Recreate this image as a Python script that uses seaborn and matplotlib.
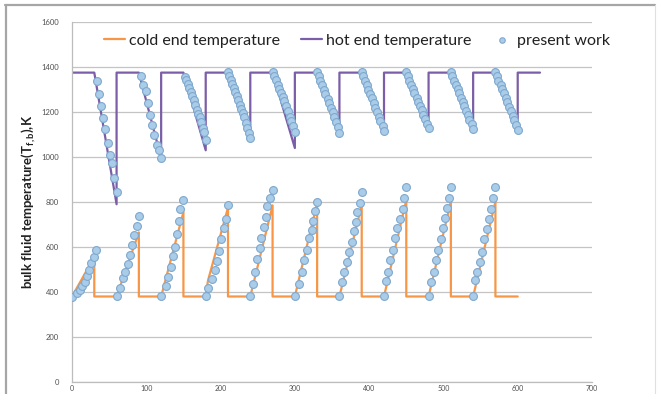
import matplotlib
matplotlib.use("Agg")
import matplotlib.pyplot as plt
import seaborn as sns
import pandas as pd
from matplotlib.lines import Line2D

# ---------------- data ----------------
hot_x = [0, 30, 60, 60, 90, 120, 120, 150, 180, 180, 210, 240, 240, 270, 300, 300,
         330, 360, 360, 390, 420, 420, 450, 480, 480, 510, 540, 540, 570, 600, 600, 630]
hot_y = [1375, 1375, 790, 1375, 1375, 995, 1375, 1375, 1030, 1375, 1375, 1078, 1375, 1375, 1040, 1375,
         1375, 1110, 1375, 1375, 1112, 1375, 1375, 1140, 1375, 1375, 1138, 1375, 1375, 1135, 1375, 1375]

cold_x = [0, 30, 30, 60, 90, 90, 120, 150, 150, 180, 183, 210, 210, 240, 270, 270,
          300, 330, 330, 360, 390, 390, 420, 450, 450, 480, 510, 510, 540, 570, 570, 600]
cold_y = [380, 555, 380, 380, 665, 380, 380, 755, 380, 380, 450, 775, 380, 380, 785, 380,
          380, 795, 380, 380, 787, 380, 380, 809, 380, 380, 802, 380, 380, 802, 380, 380]

# present work: hot-end points, one list per cycle
hot_pts_x = [
    [33, 36, 39, 42, 45, 48, 51, 54, 57, 60],
    [93, 96, 99, 102, 105, 108, 111, 114, 117, 120],
    [152, 154, 156, 158, 160, 162, 164, 166, 168, 170, 172, 174, 176, 178, 180],
    [210, 212, 214, 216, 218, 220, 222, 224, 226, 228, 230, 232, 234, 236, 238, 240],
    [270, 272, 274, 277, 279, 281, 284, 286, 288, 291, 293, 295, 298, 300],
    [330, 332, 334, 337, 339, 341, 344, 346, 348, 351, 353, 355, 358, 360],
    [390, 392, 394, 397, 399, 401, 404, 406, 408, 411, 413, 415, 418, 420],
    [450, 452, 454, 457, 459, 461, 464, 466, 468, 471, 473, 475, 478, 480],
    [510, 512, 514, 517, 519, 521, 524, 526, 528, 531, 533, 535, 538, 540],
    [570, 572, 574, 577, 579, 581, 584, 586, 588, 591, 593, 595, 598, 600],
]
hot_pts_y = [
    [1336, 1280, 1225, 1175, 1124, 1062, 1010, 972, 906, 846],
    [1362, 1322, 1292, 1240, 1188, 1143, 1099, 1054, 1032, 995],
    [1356, 1341, 1326, 1307, 1289, 1269, 1252, 1232, 1210, 1192, 1176, 1154, 1130, 1112, 1077],
    [1378, 1362, 1344, 1326, 1307, 1287, 1269, 1252, 1232, 1213, 1195, 1178, 1151, 1129, 1106, 1084],
    [1377, 1359, 1341, 1322, 1302, 1285, 1267, 1248, 1225, 1203, 1180, 1158, 1136, 1109],
    [1378, 1358, 1338, 1319, 1300, 1281, 1260, 1240, 1219, 1198, 1178, 1155, 1132, 1108],
    [1378, 1359, 1339, 1320, 1300, 1280, 1261, 1240, 1220, 1199, 1178, 1158, 1136, 1114],
    [1377, 1358, 1339, 1320, 1301, 1283, 1264, 1245, 1226, 1207, 1188, 1168, 1148, 1129],
    [1378, 1359, 1340, 1321, 1302, 1283, 1264, 1245, 1226, 1206, 1186, 1166, 1145, 1124],
    [1378, 1359, 1340, 1321, 1302, 1283, 1263, 1244, 1224, 1204, 1184, 1163, 1142, 1121],
]
# present work: cold-end points, one list per cycle
cold_pts_x = [
    [0, 7, 11, 14, 17, 20, 23, 26, 29, 32],
    [60, 65, 69, 72, 75, 78, 81, 84, 87, 90],
    [120, 126, 129, 133, 136, 138, 141, 144, 146, 150],
    [180, 183, 189, 192, 195, 198, 201, 204, 207, 210],
    [240, 244, 246, 249, 253, 255, 258, 261, 263, 267, 270],
    [300, 306, 309, 312, 316, 319, 323, 325, 327, 330],
    [360, 363, 366, 370, 373, 377, 380, 382, 384, 388, 390],
    [420, 423, 425, 428, 432, 435, 438, 442, 445, 447, 450],
    [480, 483, 487, 490, 493, 497, 499, 502, 505, 508, 510],
    [540, 543, 545, 549, 552, 555, 559, 561, 564, 567, 570],
]
cold_pts_y = [
    [380, 395, 408, 425, 445, 470, 497, 527, 556, 585],
    [382, 420, 462, 490, 524, 564, 609, 655, 694, 738],
    [382, 426, 465, 510, 560, 601, 658, 717, 768, 809],
    [382, 420, 460, 497, 539, 583, 634, 683, 723, 787],
    [382, 435, 490, 545, 594, 639, 688, 735, 783, 817, 854],
    [382, 435, 490, 544, 588, 639, 676, 717, 758, 802],
    [382, 445, 490, 535, 580, 624, 669, 709, 754, 795, 843],
    [382, 450, 490, 544, 588, 639, 684, 724, 769, 818, 867],
    [382, 445, 490, 544, 588, 634, 684, 729, 774, 818, 867],
    [382, 453, 490, 535, 580, 634, 681, 726, 771, 820, 867],
]

y_ticks = [0, 200, 400, 600, 800, 1000, 1200, 1400, 1600]
x_ticks = [0, 100, 200, 300, 400, 500, 600, 700]

# ---------------- build tables ----------------
hot_df = pd.DataFrame({"x": hot_x, "y": hot_y})
cold_df = pd.DataFrame({"x": cold_x, "y": cold_y})
px, py = [], []
for xs, ys in zip(hot_pts_x + cold_pts_x, hot_pts_y + cold_pts_y):
    px.extend(xs)
    py.extend(ys)
pts_df = pd.DataFrame({"x": px, "y": py})

# ---------------- figure ----------------
sns.set_theme(style="white")
plt.rcParams['font.family'] = ['Lato', 'DejaVu Sans']
plt.rcParams['mathtext.fontset'] = 'custom'
plt.rcParams['mathtext.bf'] = 'Lato:bold'
plt.rcParams['mathtext.rm'] = 'Lato'
plt.rcParams['mathtext.it'] = 'Lato:italic'

W, H = 660, 394
fig = plt.figure(figsize=(W / 100, H / 100), dpi=100)
fig.patch.set_facecolor("white")

# outer chart frame
frame_c = "#a6a6a6"
fig.add_artist(Line2D([5 / W, 655 / W], [1 - 5 / H, 1 - 5 / H], color=frame_c, lw=1.6))
fig.add_artist(Line2D([6 / W, 6 / W], [0, 1 - 5 / H], color=frame_c, lw=1.6))
fig.add_artist(Line2D([655 / W, 655 / W], [0, 1 - 5 / H], color="#e0e0e0", lw=0.8))

ax = fig.add_axes([72 / W, 12 / H, 520 / W, 360 / H])

orange = "#F79646"
purple = "#7B5EA7"

sns.lineplot(data=cold_df, x="x", y="y", sort=False, estimator=None, ax=ax,
             color=orange, lw=1.6, label="cold end temperature")
sns.lineplot(data=hot_df, x="x", y="y", sort=False, estimator=None, ax=ax,
             color=purple, lw=1.6, label="hot end temperature")
sns.scatterplot(data=pts_df, x="x", y="y", ax=ax, s=32, color="#A9CCE8",
                edgecolor="#7FA8CF", linewidth=0.8, label="present work", zorder=3)

ax.set_xlim(0, 700)
ax.set_ylim(0, 1600)
ax.set_xticks(x_ticks)
ax.set_yticks(y_ticks)
ax.set_xticklabels([str(v) for v in x_ticks])
ax.set_yticklabels([str(v) for v in y_ticks])
ax.yaxis.grid(True, color="#c4c4c4", lw=0.9)
ax.xaxis.grid(False)
ax.set_axisbelow(True)
for s in ["top", "right"]:
    ax.spines[s].set_visible(False)
for s in ["left", "bottom"]:
    ax.spines[s].set_color("#bcbcbc")
    ax.spines[s].set_linewidth(0.9)
ax.tick_params(axis="both", which="both", direction="out", length=3.5, width=0.8,
               color="#bcbcbc", labelsize=5.5, labelcolor="#505050")
ax.tick_params(axis="y", pad=6)
ax.tick_params(axis="x", length=2, pad=0.5, labelsize=5)

ax.set_xlabel("")
ax.set_ylabel(r"bulk fluid temperature($\mathbf{T}_{\mathbf{f,b}}$),K",
              fontsize=9.5, fontweight="bold", color="#202020", labelpad=2)

leg = ax.legend(loc="upper center", bbox_to_anchor=(0.548, 1.008), ncol=3, frameon=False,
                fontsize=11.5, handlelength=1.3, handletextpad=0.25, columnspacing=1.3,
                markerscale=0.7)
for t in leg.get_texts():
    t.set_color("#202020")

fig.savefig("out.png", dpi=100)
